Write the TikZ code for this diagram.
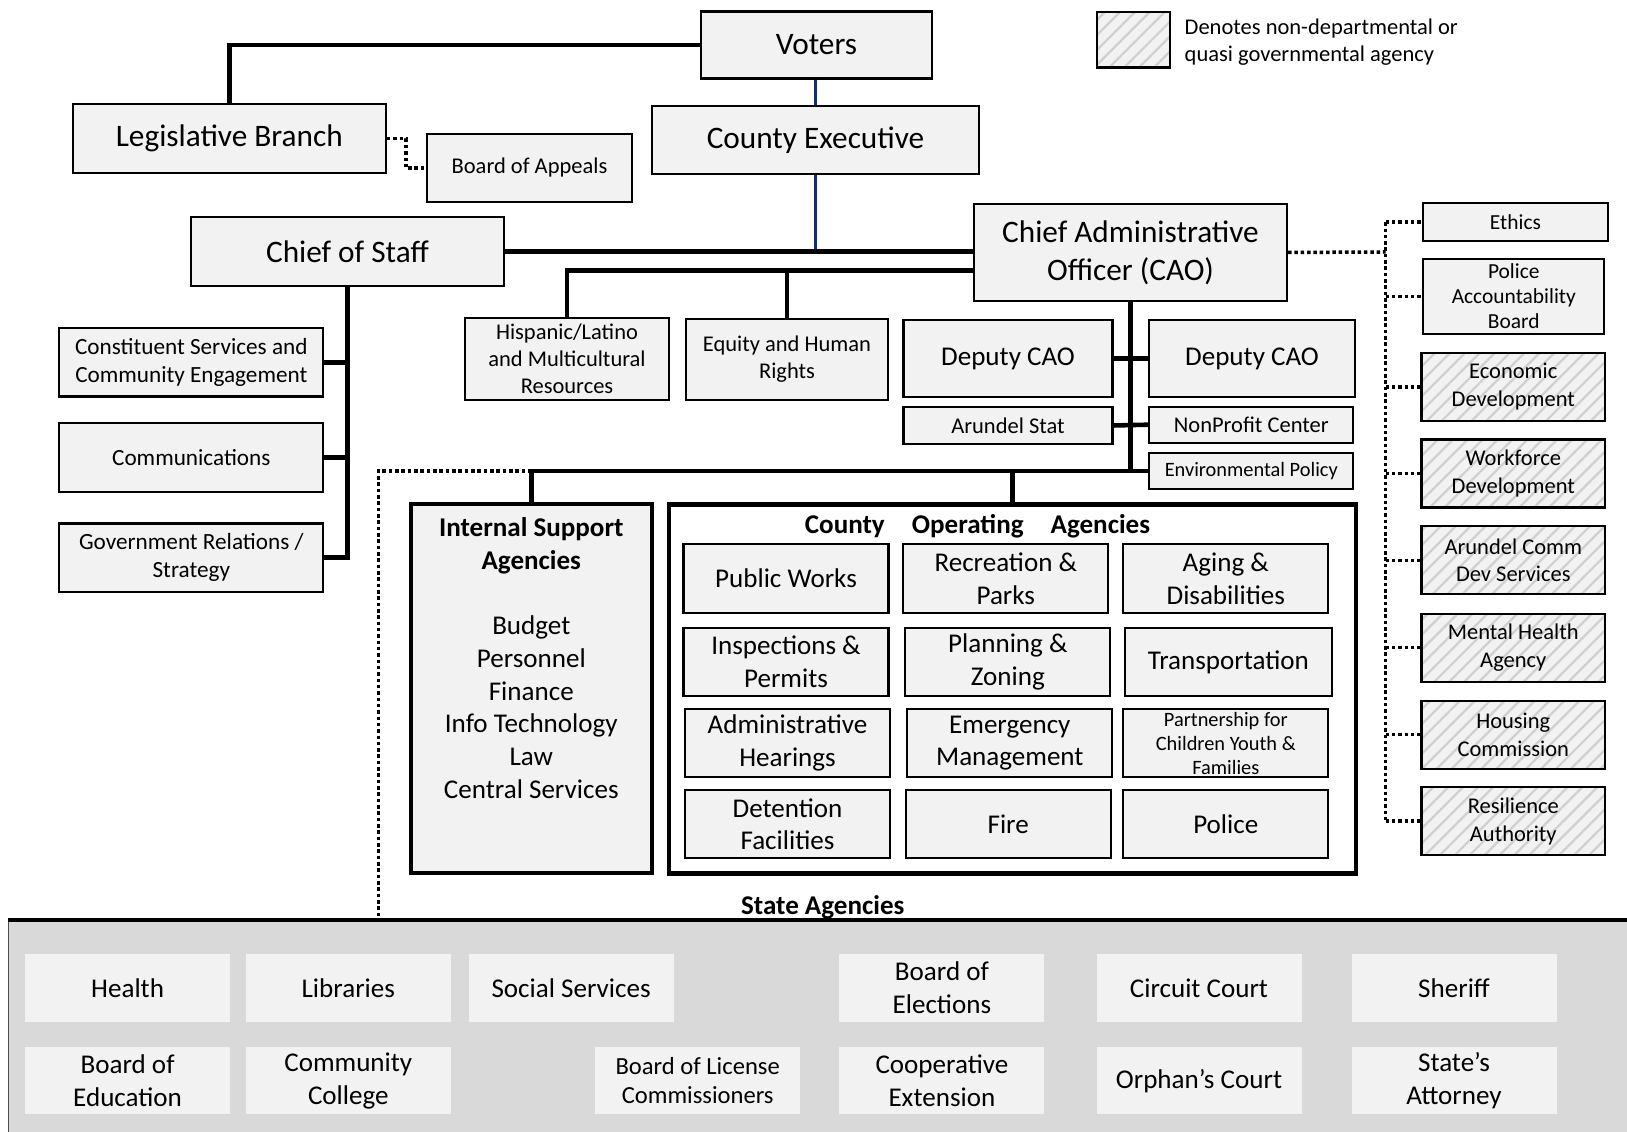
\documentclass[tikz,border=0pt]{standalone}
\usepackage{fontspec}
\setmainfont{Carlito}
\usepackage{tikz}
\usetikzlibrary{positioning,calc,patterns.meta}
\usepackage{xcolor}
\definecolor{boxfill}{RGB}{242,242,242}
\definecolor{stategray}{RGB}{217,217,217}
\definecolor{hatch}{RGB}{208,208,208}
\definecolor{execblue}{RGB}{25,45,110}

\begin{document}
\begin{tikzpicture}[
  every node/.style={font=\fontsize{6.4}{7.7}\selectfont, inner sep=0.5pt},
  unitN/.style={rectangle, draw=black, fill=boxfill, line width=0.6pt, align=center, minimum width=2.05cm, minimum height=0.68cm},
  headN/.style={unitN, font=\fontsize{8.9}{10.9}\selectfont, minimum width=3.13cm, minimum height=0.69cm},
  sideN/.style={unitN, font=\fontsize{6.6}{8.05}\selectfont, minimum width=2.64cm, minimum height=0.685cm},
  deptN/.style={unitN, font=\fontsize{7.7}{9.3}\selectfont, minimum height=0.684cm},
  quasiN/.style={unitN, minimum width=1.836cm, preaction={fill=boxfill}, pattern={Lines[angle=45,distance=3pt,line width=0.65pt]}, pattern color=hatch, font=\fontsize{6.4}{7.9}\selectfont},
  groupN/.style={rectangle, draw=black, line width=1.4pt},
  stateA/.style={rectangle, draw=black!70, fill=stategray, line width=0.5pt},
  stateN/.style={fill=boxfill, align=center, minimum width=2.05cm, minimum height=0.674cm, font=\fontsize{7.7}{9.3}\selectfont},
  ttl/.style={font=\bfseries\fontsize{7.7}{9.3}\selectfont},
  link/.style={black, line width=1.3pt},
  exe/.style={execblue, line width=0.85pt},
  dots/.style={black, line width=1pt, dash pattern=on 1pt off 0.8pt},
]
\useasboundingbox (0,0) rectangle (16.27,11.32);
\node[stateA, minimum width=16.32cm, minimum height=2.21cm] (state) at (8.245, 1.005) {};
\draw[link] (state.north west) -- (state.north east);
\node[ttl] (statetitle) at (8.228, 2.25) {State Agencies};
\node[stateN] (health) at (1.276, 1.44) {Health};
\node[stateN] (libs) at (3.483, 1.44) {Libraries};
\node[stateN] (dss) at (5.711, 1.44) {Social Services};
\node[stateN] (elect) at (9.419, 1.44) {Board of\\Elections};
\node[stateN] (circuit) at (11.99, 1.44) {Circuit Court};
\node[stateN] (sheriff) at (14.54, 1.44) {Sheriff};
\node[stateN] (boe) at (1.276, 0.513) {Board of\\Education};
\node[stateN] (aacc) at (3.483, 0.513) {Community\\College};
\node[stateN, font=\fontsize{7.0}{8.4}\selectfont] (liquor) at (6.977, 0.513) {Board of License\\Commissioners};
\node[stateN] (coop) at (9.419, 0.513) {Cooperative\\Extension};
\node[stateN] (orphans) at (11.99, 0.513) {Orphan’s Court};
\node[stateN] (sao) at (14.54, 0.513) {State’s\\Attorney};

\node[quasiN, minimum width=0.735cm, minimum height=0.555cm] (key) at (11.333, 10.922) {};
\node[anchor=west, align=left, inner sep=0pt] (keytxt) at (11.84, 10.90) {Denotes non-departmental or\\quasi governmental agency};

\node[headN, minimum width=2.31cm, minimum height=0.67cm] (voters) at (8.165, 10.87) {Voters};
\node[headN, minimum width=3.27cm, minimum height=0.68cm] (exec) at (8.155, 9.92) {County Executive};
\node[headN] (leg) at (2.293, 9.933) {Legislative Branch};
\node[unitN] (appeals) at (5.295, 9.64) {Board of Appeals};
\node[headN] (cos) at (3.475, 8.805) {Chief of Staff};
\node[headN, minimum height=0.97cm] (cao) at (11.305, 8.795) {Chief Administrative\\Officer (CAO)};

\node[sideN] (cse) at (1.913, 7.697) {Constituent Services and\\Community Engagement};
\node[sideN] (comms) at (1.913, 6.745) {Communications};
\node[sideN] (gov) at (1.913, 5.742) {Government Relations /\\Strategy};

\node[unitN, minimum width=2.04cm, minimum height=0.82cm] (hisp) at (5.67, 7.73) {Hispanic/Latino\\and Multicultural\\Resources};
\node[unitN, minimum width=2.02cm, minimum height=0.81cm] (equity) at (7.87, 7.725) {Equity and Human\\Rights};
\node[deptN, minimum width=2.09cm, minimum height=0.77cm] (depA) at (10.08, 7.733) {Deputy CAO};
\node[deptN, minimum width=2.06cm, minimum height=0.77cm] (depB) at (12.52, 7.733) {Deputy CAO};
\node[unitN, minimum width=2.09cm, minimum height=0.376cm] (stat) at (10.08, 7.065) {Arundel Stat};
\node[unitN, minimum width=2.04cm, minimum height=0.36cm] (npc) at (12.513, 7.073) {NonProfit Center};
\node[unitN, minimum width=2.04cm, minimum height=0.363cm, font=\fontsize{5.8}{6.8}\selectfont] (env) at (12.513, 6.61) {Environmental Policy};

\node[groupN, fill=boxfill, minimum width=2.41cm, minimum height=3.69cm] (isa) at (5.315, 4.435) {};
\node[align=center, font=\fontsize{7.7}{9.3}\selectfont] (isatxt) at (5.313, 4.74) {\textbf{Internal Support}\\\textbf{Agencies}\\[9.3pt]Budget\\Personnel\\Finance\\Info Technology\\Law\\Central Services};
\node[groupN, fill=white, minimum width=6.87cm, minimum height=3.685cm] (coa) at (10.125, 4.43) {};
\node[ttl] (coatitle) at (9.775, 6.055) {County\quad Operating\quad Agencies};
\node[deptN] (dpw) at (7.86, 5.535) {Public Works};
\node[deptN] (rec) at (10.058, 5.535) {Recreation \&\\Parks};
\node[deptN] (aging) at (12.258, 5.535) {Aging \&\\Disabilities};
\node[deptN] (insp) at (7.86, 4.70) {Inspections \&\\Permits};
\node[deptN] (plan) at (10.079, 4.70) {Planning \&\\Zoning};
\node[deptN, minimum width=2.067cm] (trans) at (12.283, 4.70) {Transportation};
\node[deptN] (oah) at (7.875, 3.888) {Administrative\\Hearings};
\node[deptN] (oem) at (10.098, 3.888) {Emergency\\Management};
\node[deptN, font=\fontsize{5.8}{6.8}\selectfont] (pcyf) at (12.258, 3.888) {Partnership for\\Children Youth \&\\Families};
\node[deptN] (det) at (7.875, 3.078) {Detention\\Facilities};
\node[deptN] (fire) at (10.082, 3.078) {Fire};
\node[deptN] (police) at (12.258, 3.078) {Police};

\node[unitN, minimum width=1.844cm, minimum height=0.377cm, font=\fontsize{6.1}{7.1}\selectfont] (ethics) at (15.155, 9.098) {Ethics};
\node[unitN, minimum width=1.81cm, minimum height=0.75cm, font=\fontsize{6.1}{7.1}\selectfont] (pab) at (15.138, 8.355) {Police\\Accountability\\Board};
\node[quasiN] (econ) at (15.133, 7.451) {Economic\\Development};
\node[quasiN] (wfd) at (15.133, 6.585) {Workforce\\Development};
\node[quasiN] (acds) at (15.133, 5.716) {Arundel Comm\\Dev Services};
\node[quasiN] (mha) at (15.133, 4.843) {Mental Health\\Agency};
\node[quasiN] (hca) at (15.133, 3.974) {Housing\\Commission};
\node[quasiN] (rai) at (15.133, 3.108) {Resilience\\Authority};

\draw[link] (voters.west) -| (leg.north);
\draw[exe] (exec.north |- voters.south) -- (exec.north);
\draw[exe] (exec.south) -- (exec.south |- cos.east);
\draw[link] (cos.east) -- (cos.east -| cao.west);
\draw[dots] (leg.east) -- ++(0.19,0) |- (appeals.west);
\coordinate (caoL) at (9.74, 8.613);
\draw[link] (caoL) -| (hisp.north);
\draw[link] (equity.north) -- (equity.north |- caoL);
\draw[link] (cos.south) |- (gov.east);
\draw[link] (cse.east) -- (cse.east -| cos.south);
\draw[link] (comms.east) -- (comms.east -| cos.south);
\draw[link] (cao.south) |- (env.west);
\draw[link] (depA.east) -- (depB.west);
\draw[link] (stat.east) -- (npc.west);
\coordinate (bus) at (cao.south |- env.west);
\draw[link] (bus) -| (isa.north);
\draw[link] (coa.north) -- (coa.north |- bus);
\coordinate (sd) at (3.785, 2.11);
\draw[dots] (isa.north |- bus) -| (sd);
\coordinate (qt) at (13.856, 8.80);
\draw[dots] (cao.east) -- (qt);
\draw[dots] (qt |- ethics.west) -- (qt |- rai.west);
\draw[dots] (qt |- ethics.west) -- (ethics.west);
\draw[dots] (qt |- pab.west) -- (pab.west);
\draw[dots] (qt |- econ.west) -- (econ.west);
\draw[dots] (qt |- wfd.west) -- (wfd.west);
\draw[dots] (qt |- acds.west) -- (acds.west);
\draw[dots] (qt |- mha.west) -- (mha.west);
\draw[dots] (qt |- hca.west) -- (hca.west);
\draw[dots] (qt |- rai.west) -- (rai.west);
\end{tikzpicture}
\end{document}
